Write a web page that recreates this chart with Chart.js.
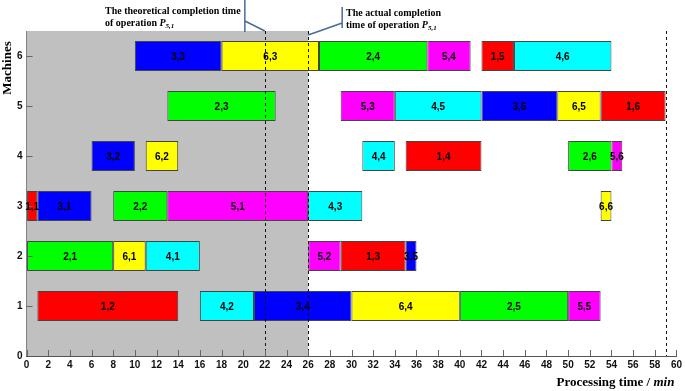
<!DOCTYPE html>
<html>
<head>
<meta charset="utf-8">
<script src="https://cdn.jsdelivr.net/npm/chart.js@4.4.0/dist/chart.umd.min.js"></script>
<style>
  html, body { margin: 0; padding: 0; background: #fff; }
</style>
</head>
<body>
<canvas id="gantt" width="685" height="391"></canvas>
<script>
// operation "job,op" -> machine, start, end (min)
const opNames = [
  '1,2','4,2','3,4','6,4','2,5','5,5',
  '2,1','6,1','4,1','5,2','1,3','3,5',
  '1,1','3,1','2,2','5,1','4,3','6,6',
  '3,2','6,2','4,4','1,4','2,6','5,6',
  '2,3','5,3','4,5','3,6','6,5','1,6',
  '3,3','6,3','2,4','5,4','1,5','4,6'
];
const opMachines = [
  1,1,1,1,1,1,
  2,2,2,2,2,2,
  3,3,3,3,3,3,
  4,4,4,4,4,4,
  5,5,5,5,5,5,
  6,6,6,6,6,6
];
const opStarts = [
  1,16,21,30,40,50,
  0,8,11,26,29,35,
  0,1,8,13,26,53,
  6,11,31,35,50,54,
  13,29,34,42,49,53,
  10,18,27,37,42,45
];
const opEnds = [
  14,21,30,40,50,53,
  8,11,16,29,35,36,
  1,6,13,26,31,54,
  10,14,34,42,54,55,
  23,34,42,49,53,59,
  18,27,37,41,45,54
];
// job number -> colour
const jobColors = ['#ff0000', '#00ff00', '#0000ff', '#00ffff', '#ff00ff', '#ffff00'];

const theoreticalEnd = 22;
const actualEnd = 26;
const makespan = 59;

const serif = '"Liberation Serif", "Times New Roman", serif';
const sans = '"Liberation Sans", Arial, sans-serif';

const barData = opNames.map((n, i) => ({ x: [opStarts[i], opEnds[i]], y: opMachines[i] }));
const barColors = opNames.map(n => jobColors[parseInt(n.split(',')[0]) - 1]);

const overlay = {
  id: 'overlay',
  beforeDatasetsDraw(chart) {
    const { ctx, chartArea: a, scales: { x } } = chart;
    ctx.save();
    ctx.fillStyle = '#c0c0c0';
    const x0 = x.getPixelForValue(0), x1 = x.getPixelForValue(actualEnd);
    ctx.fillRect(x0, a.top, x1 - x0, a.bottom - a.top);
    ctx.restore();
  },
  afterDatasetsDraw(chart) {
    const { ctx, chartArea: a, scales: { x, y } } = chart;
    ctx.save();
    // dashed markers
    ctx.strokeStyle = '#111';
    ctx.lineWidth = 1;
    ctx.setLineDash([3, 3]);
    [theoreticalEnd, actualEnd, makespan].forEach(v => {
      const px = Math.round(x.getPixelForValue(v)) + 0.5;
      ctx.beginPath();
      ctx.moveTo(px, a.top);
      ctx.lineTo(px, a.bottom);
      ctx.stroke();
    });
    ctx.setLineDash([]);

    // inner ticks
    ctx.strokeStyle = '#666';
    x.ticks.forEach(t => {
      const px = Math.round(x.getPixelForValue(t.value)) + 0.5;
      ctx.beginPath();
      ctx.moveTo(px, a.bottom);
      ctx.lineTo(px, a.bottom - 6);
      ctx.stroke();
    });
    y.ticks.forEach(t => {
      if (t.value === 0) return;
      const py = Math.round(y.getPixelForValue(t.value)) + 0.5;
      ctx.beginPath();
      ctx.moveTo(a.left, py);
      ctx.lineTo(a.left + 6, py);
      ctx.stroke();
    });

    // operation labels
    ctx.fillStyle = '#000';
    ctx.font = 'bold 10px ' + sans;
    ctx.textAlign = 'center';
    ctx.textBaseline = 'middle';
    chart.getDatasetMeta(0).data.forEach((bar, i) => {
      ctx.fillText(opNames[i], (bar.x + bar.base) / 2, bar.y + 1);
    });
    ctx.restore();
  },
  afterDraw(chart) {
    const { ctx, chartArea: a, scales: { x } } = chart;
    ctx.save();
    // pointer lines
    const xt = x.getPixelForValue(theoreticalEnd);
    const xa = x.getPixelForValue(actualEnd);
    ctx.strokeStyle = '#4a6a98';
    ctx.lineWidth = 1.5;
    ctx.beginPath();
    ctx.moveTo(xt - 20, 0);
    ctx.lineTo(xt - 20, a.top + 1);
    ctx.moveTo(xt - 20, a.top - 10);
    ctx.lineTo(xt, a.top);
    ctx.moveTo(xa + 34, 7);
    ctx.lineTo(xa + 34, 28);
    ctx.moveTo(xa + 34, 23);
    ctx.lineTo(xa, a.top + 4);
    ctx.stroke();

    // annotation text
    ctx.fillStyle = '#000';
    ctx.textBaseline = 'alphabetic';
    ctx.textAlign = 'left';
    const opLine = (lead, tx, ty) => {
      ctx.font = 'bold 10px ' + serif;
      ctx.fillText(lead, tx, ty);
      let w = ctx.measureText(lead).width;
      ctx.font = 'italic bold 10px ' + serif;
      ctx.fillText('P', tx + w, ty);
      w += ctx.measureText('P').width;
      ctx.font = 'italic bold 7px ' + serif;
      ctx.fillText('5,1', tx + w, ty + 2);
    };
    ctx.font = 'bold 10px ' + serif;
    ctx.fillText('The theoretical completion time', 105, 14);
    opLine('of operation ', 105, 25.5);
    ctx.font = 'bold 10px ' + serif;
    ctx.fillText('The actual completion', 346, 16);
    opLine('time of operation ', 346, 27.5);

    // x axis title
    ctx.textAlign = 'right';
    ctx.font = 'italic bold 13px ' + serif;
    const unit = 'min';
    const uw = ctx.measureText(unit).width;
    ctx.fillText(unit, a.right - 2, 386);
    ctx.font = 'bold 13px ' + serif;
    ctx.fillText('Processing time / ', a.right - 2 - uw, 386);

    // y axis title
    ctx.translate(8, 68);
    ctx.rotate(-Math.PI / 2);
    ctx.textAlign = 'center';
    ctx.textBaseline = 'middle';
    ctx.fillText('Machines', 0, 0);
    ctx.restore();
  }
};

new Chart(document.getElementById('gantt'), {
  type: 'bar',
  data: {
    datasets: [{
      data: barData,
      backgroundColor: barColors,
      borderColor: '#444',
      borderWidth: 1,
      borderSkipped: false,
      barPercentage: 0.6,
      categoryPercentage: 1
    }]
  },
  options: {
    indexAxis: 'y',
    responsive: false,
    animation: false,
    layout: { padding: { top: 31, right: 6, bottom: 17, left: 13 } },
    plugins: {
      legend: { display: false },
      tooltip: { enabled: false }
    },
    scales: {
      x: {
        type: 'linear',
        min: 0,
        max: 60,
        border: { display: true, color: '#555', width: 1 },
        grid: { drawOnChartArea: false, drawTicks: false },
        ticks: {
          stepSize: 2,
          autoSkip: false,
          maxRotation: 0,
          padding: 3,
          color: '#111',
          font: { family: sans, size: 10, weight: 'bold' }
        }
      },
      y: {
        type: 'linear',
        min: 0,
        max: 6.5,
        offset: false,
        border: { display: true, color: '#555', width: 1 },
        grid: { drawOnChartArea: false, drawTicks: false, offset: false },
        afterBuildTicks(scale) {
          scale.ticks = scale.ticks.filter(t => Number.isInteger(t.value));
        },
        ticks: {
          stepSize: 1,
          padding: 4,
          color: '#111',
          font: { family: sans, size: 10, weight: 'bold' }
        }
      }
    }
  },
  plugins: [overlay]
});
</script>
</body>
</html>
